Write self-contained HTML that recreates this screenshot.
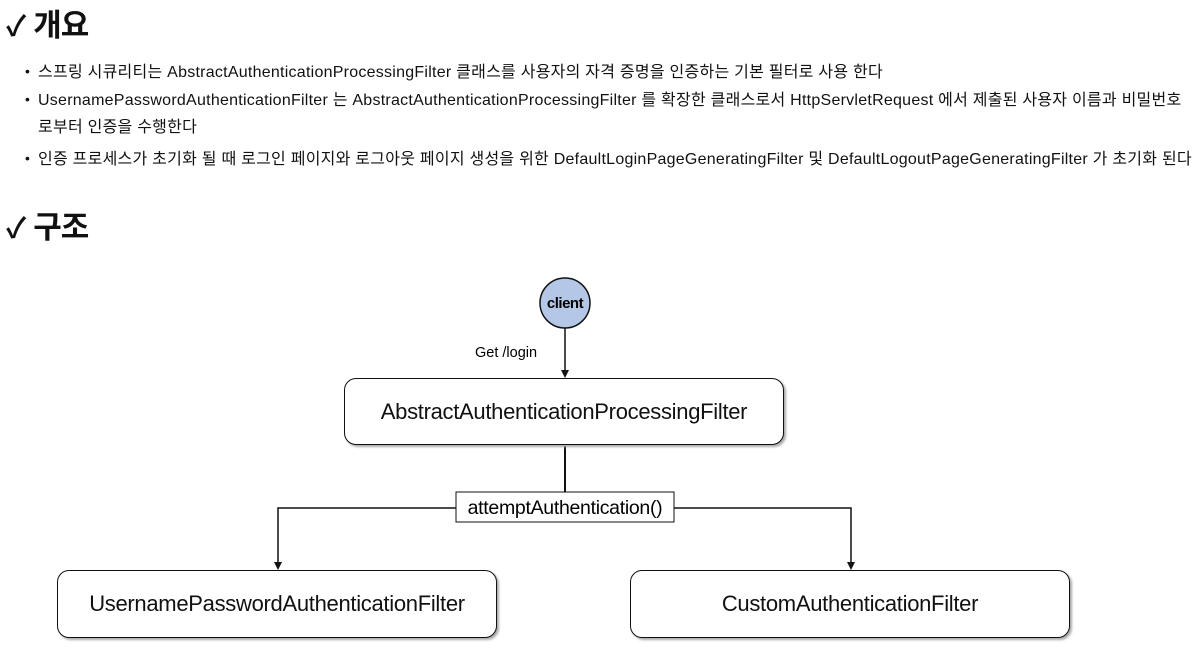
<!DOCTYPE html>
<html><head><meta charset="utf-8"><style>
body{margin:0;width:1199px;height:654px;background:#fff;font-family:"Liberation Sans","Noto Sans CJK KR",sans-serif;color:#111;position:relative;overflow:hidden}
.h{position:absolute;left:6px;font-size:31px;font-weight:bold;letter-spacing:-1px}
.h span{font-size:28px;margin-right:8px}
.t{position:absolute;left:38px;font-size:16px;white-space:nowrap;letter-spacing:0.25px}
.b{position:absolute;left:25px;font-size:14px}
.box{position:absolute;border:1.5px solid #111;border-radius:12px;background:#fff;box-shadow:2px 2px 2px #aaa;display:flex;align-items:center;justify-content:center;font-size:22px;letter-spacing:-0.3px}
</style></head><body>
<div class="h" style="top:0px"><span>✓</span>개요</div>
<div class="b" style="top:63px">•</div><div class="t" style="top:58px">스프링 시큐리티는 AbstractAuthenticationProcessingFilter 클래스를 사용자의 자격 증명을 인증하는 기본 필터로 사용 한다</div>
<div class="b" style="top:91px">•</div><div class="t" style="top:86px">UsernamePasswordAuthenticationFilter 는 AbstractAuthenticationProcessingFilter 를 확장한 클래스로서 HttpServletRequest 에서 제출된 사용자 이름과 비밀번호</div>
<div class="t" style="top:113px">로부터 인증을 수행한다</div>
<div class="b" style="top:150px">•</div><div class="t" style="top:145px">인증 프로세스가 초기화 될 때 로그인 페이지와 로그아웃 페이지 생성을 위한 DefaultLoginPageGeneratingFilter 및 DefaultLogoutPageGeneratingFilter 가 초기화 된다</div>
<div class="h" style="top:202px"><span>✓</span>구조</div>
<svg style="position:absolute;left:0;top:0" width="1199" height="654">
<circle cx="565" cy="303" r="25" fill="#b4c7e7" stroke="#111" stroke-width="1.5"/>
<text x="565" y="308" text-anchor="middle" font-size="15" font-weight="bold" font-family="Liberation Sans,sans-serif" letter-spacing="-0.5">client</text>
<text x="475" y="357" font-size="14.5" font-family="Liberation Sans,sans-serif">Get /login</text>
<line x1="565" y1="328" x2="565" y2="371" stroke="#111" stroke-width="1.5"/>
<path d="M561,370 L569,370 L565,378z" fill="#111"/>
<line x1="565" y1="446" x2="565" y2="493" stroke="#111" stroke-width="2"/>
<polyline points="456,508 278,508 278,563" fill="none" stroke="#111" stroke-width="1.5"/>
<path d="M274,562 L282,562 L278,570z" fill="#111"/>
<polyline points="674,508 851,508 851,563" fill="none" stroke="#111" stroke-width="1.5"/>
<path d="M847,562 L855,562 L851,570z" fill="#111"/>
<rect x="456" y="492" width="218" height="30" fill="#fff" stroke="#111" stroke-width="1"/>
<text x="565" y="514" text-anchor="middle" font-size="19.5" font-family="Liberation Sans,sans-serif" letter-spacing="-0.3">attemptAuthentication()</text>
</svg>
<div class="box" style="left:344px;top:378px;width:438px;height:65px">AbstractAuthenticationProcessingFilter</div>
<div class="box" style="left:57px;top:570px;width:438px;height:66px">UsernamePasswordAuthenticationFilter</div>
<div class="box" style="left:630px;top:570px;width:438px;height:66px">CustomAuthenticationFilter</div>
</body></html>
